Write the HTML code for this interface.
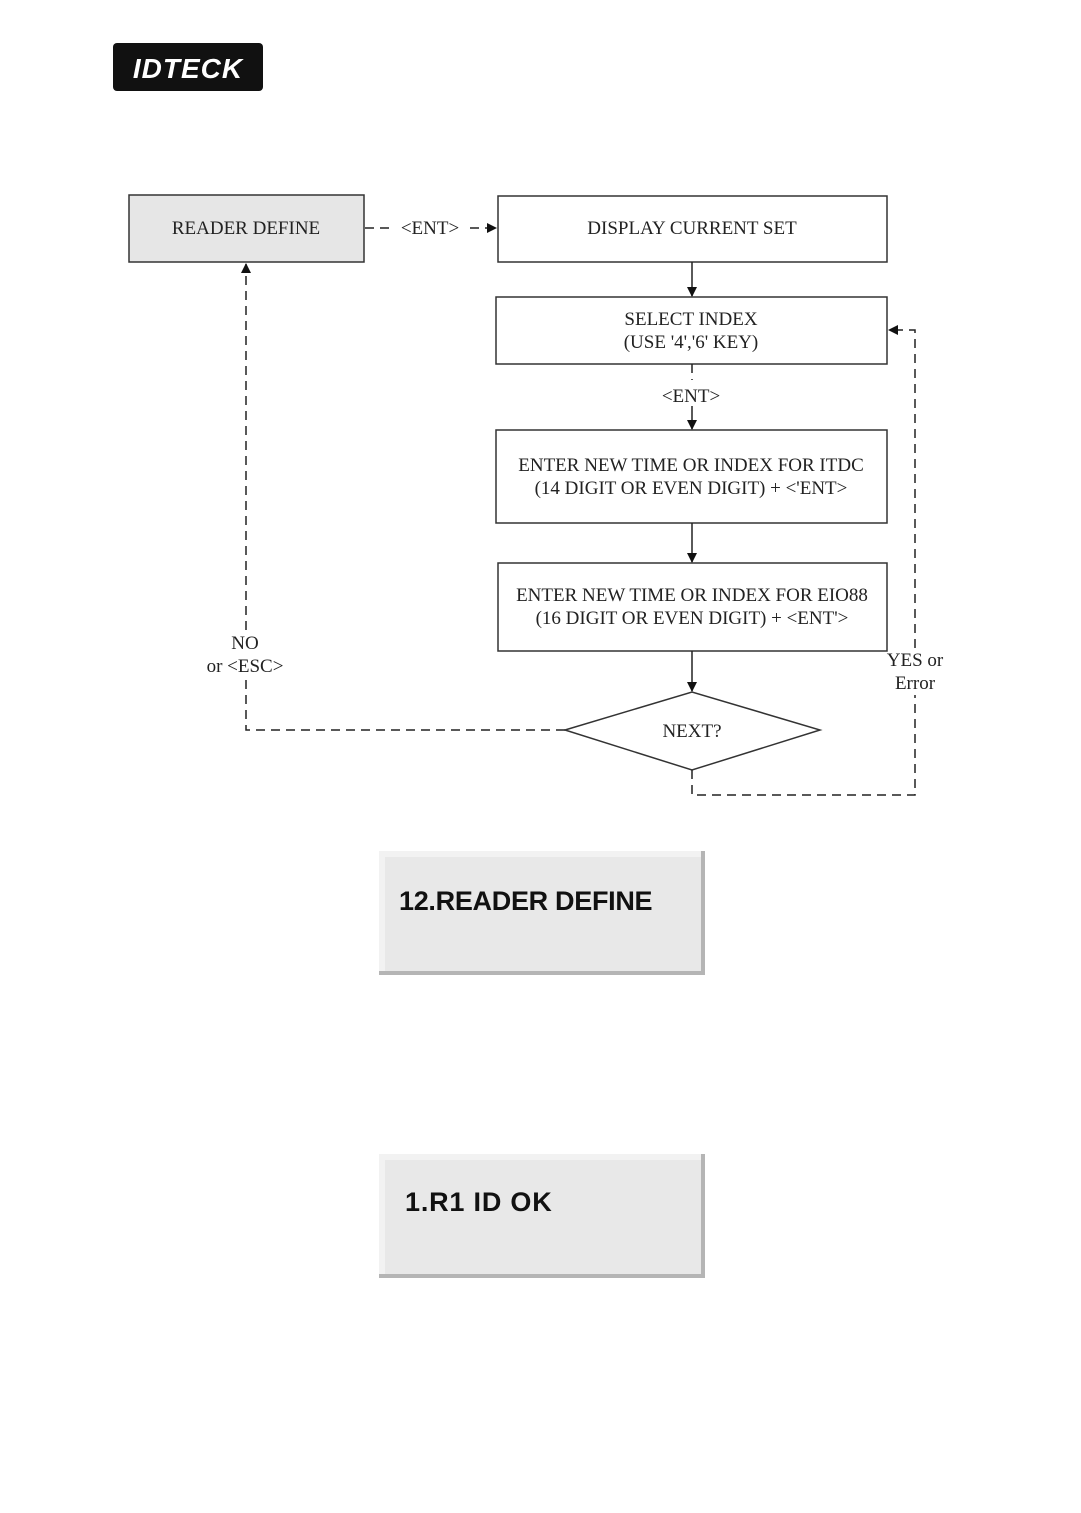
<!DOCTYPE html>
<html><head><style>
body{margin:0;background:#fff;}
svg{display:block;}
.t{font-family:"Liberation Serif",serif;font-size:19px;fill:#222;}
.b{font-family:"Liberation Sans",sans-serif;font-weight:bold;font-size:27px;fill:#111;}
</style></head><body>
<svg width="1081" height="1513" viewBox="0 0 1081 1513" xmlns="http://www.w3.org/2000/svg">
<defs><marker id="a" markerWidth="10" markerHeight="10" refX="9" refY="5" orient="auto" markerUnits="userSpaceOnUse"><path d="M0,0 L10,5 L0,10 z" fill="#111"/></marker></defs>
<rect x="113" y="43" width="150" height="48" rx="4" fill="#111"/>
<text x="188" y="78" text-anchor="middle" font-family="Liberation Sans,sans-serif" font-weight="bold" font-style="italic" font-size="28" fill="#fff" letter-spacing="1">IDTECK</text>
<g stroke="#333" stroke-width="1.5" fill="#fff">
<rect x="129" y="195" width="235" height="67" fill="#e6e6e6"/>
<rect x="498" y="196" width="389" height="66"/>
<rect x="496" y="297" width="391" height="67"/>
<rect x="496" y="430" width="391" height="93"/>
<rect x="498" y="563" width="389" height="88"/>
<polygon points="565,730 692,692 820,730 692,770"/>
</g>
<g stroke="#222" stroke-width="1.5" fill="none" marker-end="url(#a)">
<line x1="692" y1="262" x2="692" y2="296"/>
<line x1="692" y1="406" x2="692" y2="429"/>
<line x1="692" y1="523" x2="692" y2="562"/>
<line x1="692" y1="651" x2="692" y2="691"/>
</g>
<g stroke="#222" stroke-width="1.5" fill="none" stroke-dasharray="9,6">
<line x1="365" y1="228" x2="392" y2="228"/>
<line x1="470" y1="228" x2="496" y2="228" marker-end="url(#a)"/>
<line x1="692" y1="364" x2="692" y2="380"/>
<polyline points="565,730 246,730 246,680"/>
<polyline points="246,630 246,264" marker-end="url(#a)"/>
<polyline points="692,770 692,795 915,795 915,695"/>
<polyline points="915,648 915,330 889,330" marker-end="url(#a)"/>
</g>
<text class="t" x="430" y="234" text-anchor="middle">&lt;ENT&gt;</text>
<text class="t" x="246" y="234" text-anchor="middle" fill="#555">READER  DEFINE</text>
<text class="t" x="692" y="234" text-anchor="middle">DISPLAY CURRENT SET</text>
<text class="t" x="691" y="325" text-anchor="middle">SELECT INDEX</text>
<text class="t" x="691" y="348" text-anchor="middle">(USE '4','6' KEY)</text>
<text class="t" x="691" y="402" text-anchor="middle">&lt;ENT&gt;</text>
<text class="t" x="691" y="471" text-anchor="middle">ENTER NEW TIME OR INDEX FOR ITDC</text>
<text class="t" x="691" y="494" text-anchor="middle">(14 DIGIT OR EVEN DIGIT) + &lt;'ENT&gt;</text>
<text class="t" x="692" y="601" text-anchor="middle">ENTER NEW TIME OR INDEX FOR EIO88</text>
<text class="t" x="692" y="624" text-anchor="middle">(16 DIGIT OR EVEN DIGIT) + &lt;ENT'&gt;</text>
<text class="t" x="692" y="737" text-anchor="middle">NEXT?</text>
<text class="t" x="245" y="649" text-anchor="middle">NO</text>
<text class="t" x="245" y="672" text-anchor="middle">or &lt;ESC&gt;</text>
<text class="t" x="915" y="666" text-anchor="middle">YES or</text>
<text class="t" x="915" y="689" text-anchor="middle">Error</text>
<g>
<rect x="379" y="851" width="326" height="124" fill="#b5b5b5"/>
<rect x="379" y="851" width="322" height="120" fill="#f2f2f2"/>
<rect x="385" y="857" width="316" height="114" fill="#e8e8e8"/>
<text class="b" x="399" y="910" letter-spacing="-0.3">12.READER DEFINE</text>
<rect x="379" y="1154" width="326" height="124" fill="#b5b5b5"/>
<rect x="379" y="1154" width="322" height="120" fill="#f2f2f2"/>
<rect x="385" y="1160" width="316" height="114" fill="#e8e8e8"/>
<text class="b" x="405" y="1211" letter-spacing="0.8">1.R1 ID OK</text>
</g>
</svg>
</body></html>
